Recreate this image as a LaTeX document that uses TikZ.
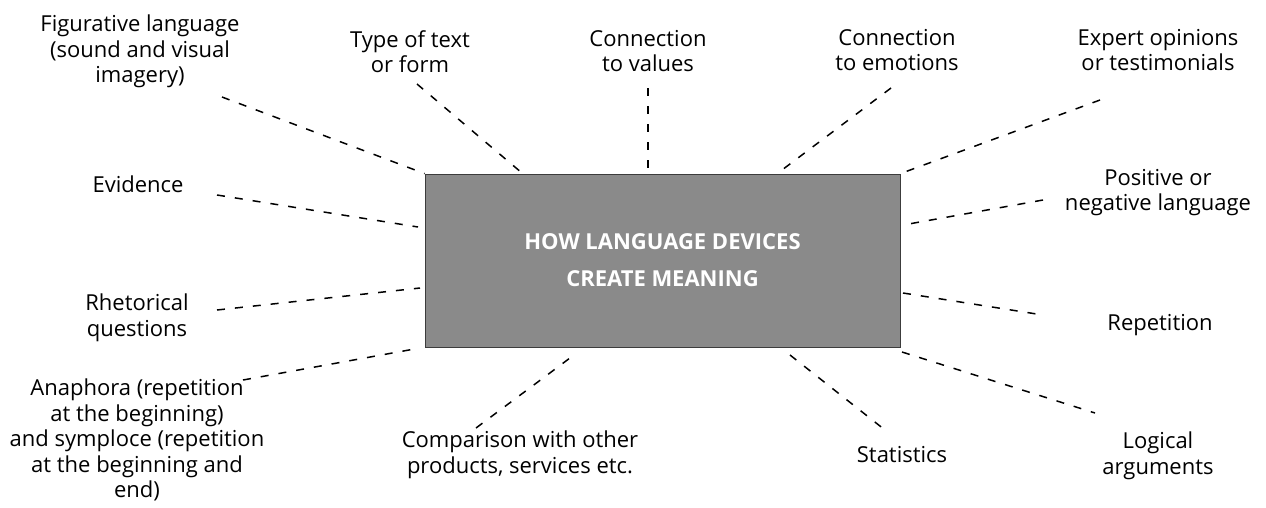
\documentclass[tikz,border=0pt]{standalone}
\usepackage{fontspec}
\setmainfont{Open Sans}
\definecolor{hubfill}{RGB}{138,138,138}
\definecolor{hubline}{RGB}{60,60,60}
\begin{document}
\begin{tikzpicture}[x=1pt,y=-1pt,
  lbl/.style={align=center,inner sep=0pt,anchor=north,
    font=\fontsize{22}{25.5}\selectfont},
  hub/.style={draw=hubline,line width=0.8pt,fill=hubfill,
    minimum width=475pt,minimum height=173pt,inner sep=0pt,
    align=center,text=white,font=\fontsize{22}{37}\selectfont\bfseries},
  link/.style={draw=black,line width=1.5pt,dash pattern=on 8pt off 10pt}]
\useasboundingbox (0,0) rectangle (1266,507);

% central box
\node[hub] (hub) at (662.5,260.5) {HOW LANGUAGE DEVICES\\CREATE MEANING};

% labels around the box
\node[lbl] (fig)  at (140,15)  {Figurative language\\(sound and visual\\imagery)};
\node[lbl] (type) at (410,30)  {Type of text\\or form};
\node[lbl] (val)  at (648,30)  {Connection\\to values};
\node[lbl] (emo)  at (897,29)  {Connection\\to emotions};
\node[lbl] (exp)  at (1158,29) {Expert opinions\\or testimonials};
\node[lbl] (evid) at (138,176) {Evidence};
\node[lbl] (pos)  at (1158,169){Positive or\\negative language};
\node[lbl] (rhet) at (137,294) {Rhetorical\\questions};
\node[lbl] (rep)  at (1160,314){Repetition};
\node[lbl] (ana)  at (137,379) {Anaphora (repetition\\at the beginning)\\and symploce (repetition\\at the beginning and\\end)};
\node[lbl] (comp) at (520,431) {Comparison with other\\products, services etc.};
\node[lbl] (stat) at (902,446) {Statistics};
\node[lbl] (logi) at (1158,432){Logical\\arguments};

% free ends of the connectors
\coordinate (fig-e)  at (222,97);
\coordinate (type-e) at (417,84);
\coordinate (val-e)  at (648,88);
\coordinate (emo-e)  at (891,88);
\coordinate (exp-e)  at (1100,100);
\coordinate (evid-e) at (217,195);
\coordinate (pos-e)  at (1043,200);
\coordinate (rhet-e) at (217,310);
\coordinate (rep-e)  at (1043,315);
\coordinate (ana-e)  at (243,380);
\coordinate (comp-e) at (476,428);
\coordinate (stat-e) at (885,430);
\coordinate (logi-e) at (1095,413);

% points where the connectors meet the box
\coordinate (type-b) at (522,173);
\coordinate (val-b)  at (648,174);
\coordinate (emo-b)  at (778,173);
\coordinate (evid-b) at (418,227);
\coordinate (pos-b)  at (903,225);
\coordinate (rhet-b) at (420,288);
\coordinate (rep-b)  at (903,293);
\coordinate (ana-b)  at (420,348);
\coordinate (comp-b) at (574,355);
\coordinate (stat-b) at (790,355);
\coordinate (logi-b) at (902,352);

% dashed connectors
\draw[link] (fig-e)  -- (hub.north west);
\draw[link] (type-e) -- (type-b);
\draw[link] (val-e)  -- (val-b);
\draw[link] (emo-e)  -- (emo-b);
\draw[link] (exp-e)  -- (hub.north east);
\draw[link] (evid-e) -- (evid-b);
\draw[link] (pos-e)  -- (pos-b);
\draw[link] (rhet-e) -- (rhet-b);
\draw[link] (rep-b)  -- (rep-e);
\draw[link] (ana-e)  -- (ana-b);
\draw[link] (comp-e) -- (comp-b);
\draw[link] (stat-b) -- (stat-e);
\draw[link] (logi-b) -- (logi-e);
\end{tikzpicture}
\end{document}
